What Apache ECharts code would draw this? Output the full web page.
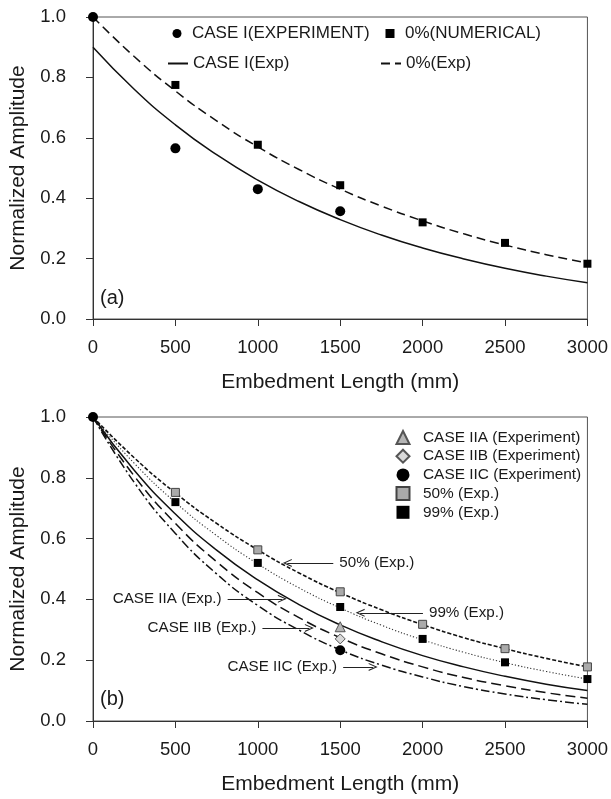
<!DOCTYPE html>
<html><head><meta charset="utf-8">
<script src="https://cdn.jsdelivr.net/npm/echarts@6/dist/echarts.min.js"></script>
<style>html,body{margin:0;padding:0;background:#fff}#c{width:611px;height:799px}</style>
</head><body><div id="c"></div>
<script>
// ---- data ----
const xTicks = [0, 500, 1000, 1500, 2000, 2500, 3000];
const curveX = [0, 250, 500, 750, 1000, 1250, 1500, 1750, 2000, 2250, 2500, 2750, 3000];
// chart (a)
const caseIExpX = [0, 500, 1000, 1500];
const caseIExpY = [1.0, 0.565, 0.43, 0.357];
const num0X = [500, 1000, 1500, 2000, 2500, 3000];
const num0Y = [0.775, 0.577, 0.443, 0.32, 0.252, 0.183];
const caseIFit = [0.900, 0.761, 0.643, 0.544, 0.460, 0.389, 0.329, 0.278, 0.235, 0.199, 0.168, 0.142, 0.120];
const zeroFit = [1.000, 0.869, 0.755, 0.656, 0.570, 0.495, 0.430, 0.374, 0.325, 0.282, 0.245, 0.213, 0.185];
// chart (b)
const iiaX = [1500], iiaY = [0.31];
const iibX = [1500], iibY = [0.27];
const iicX = [0, 1500], iicY = [1.0, 0.233];
const pctX = [500, 1000, 1500, 2000, 2500, 3000];
const p50Y = [0.752, 0.563, 0.425, 0.318, 0.238, 0.178];
const p99Y = [0.72, 0.52, 0.375, 0.27, 0.193, 0.138];
const iiaFit = [1.000, 0.825, 0.681, 0.562, 0.464, 0.383, 0.316, 0.261, 0.215, 0.178, 0.147, 0.121, 0.100];
const iibFit = [1.000, 0.806, 0.650, 0.524, 0.422, 0.340, 0.274, 0.221, 0.178, 0.143, 0.116, 0.093, 0.075];
const iicFit = [1.000, 0.785, 0.617, 0.484, 0.380, 0.299, 0.234, 0.184, 0.145, 0.113, 0.089, 0.070, 0.055];
const p50Fit = [1.000, 0.866, 0.750, 0.650, 0.563, 0.487, 0.422, 0.366, 0.317, 0.274, 0.238, 0.206, 0.178];
const p99Fit = [1.000, 0.848, 0.719, 0.610, 0.517, 0.438, 0.372, 0.315, 0.267, 0.226, 0.192, 0.163, 0.138];
// annotations: [label, startX, tipX, y]
const notes = [
  ['50% (Exp.)', 1458, 1179, 0.52],
  ['CASE IIA (Exp.)', 817, 1149, 0.402],
  ['CASE IIB (Exp.)', 1028, 1313, 0.306],
  ['CASE IIC (Exp.)', 1518, 1700, 0.178],
  ['99% (Exp.)', 2002, 1621, 0.356]
];

const zip = (xs, ys) => xs.map((x, i) => [x, ys[i]]);
const FONT = '"Liberation Sans", Arial, sans-serif';
const ink = '#1a1a1a';

function xAxis(gi) {
  return {
    gridIndex: gi, type: 'value', min: 0, max: 3000, interval: 500,
    name: 'Embedment Length (mm)', nameLocation: 'middle', nameGap: 53,
    nameTextStyle: { fontSize: 21, color: ink, fontFamily: FONT },
    axisLine: { lineStyle: { color: '#333', width: 1 } },
    axisTick: { show: true, length: 7, lineStyle: { color: '#333' } },
    axisLabel: { fontSize: 18.5, color: ink, margin: 19, fontFamily: FONT, formatter: v => String(v) },
    splitLine: { show: false }
  };
}
function yAxis(gi) {
  return {
    gridIndex: gi, type: 'value', min: 0, max: 1, interval: 0.2,
    name: 'Normalized Amplitude', nameLocation: 'middle', nameGap: 64,
    nameTextStyle: { fontSize: 21, color: ink, fontFamily: FONT },
    axisLine: { show: true, lineStyle: { color: '#333', width: 1 } },
    axisTick: { show: true, length: 7, lineStyle: { color: '#333' } },
    axisLabel: { fontSize: 18.5, color: ink, margin: 27, fontFamily: FONT, formatter: v => v.toFixed(1) },
    splitLine: { show: false }
  };
}
function lineSeries(name, gi, ys, style) {
  return {
    name, type: 'line', xAxisIndex: gi, yAxisIndex: gi, data: zip(curveX, ys),
    smooth: true, symbol: 'none', silent: true, z: 2, color: '#111',
    lineStyle: Object.assign({ color: '#111', width: 1.5 }, style)
  };
}
function scatterSeries(name, gi, xs, ys, symbol, size, item) {
  return {
    name, type: 'scatter', xAxisIndex: gi, yAxisIndex: gi, data: zip(xs, ys),
    symbol, symbolSize: size, silent: true, z: 5,
    itemStyle: Object.assign({ color: '#000', opacity: 1 }, item)
  };
}
const chevron = 'path://M5,0 L10,10 L8.6,10 L5,2.8 L1.4,10 L0,10 Z';

const topText = { fontSize: 17, color: ink, fontFamily: FONT };
const markerLegendTop = {
  orient: 'horizontal', itemHeight: 9, itemWidth: 9, itemGap: 0, padding: 0, selectedMode: false,
  formatter: '{p|{name}}',
  textStyle: Object.assign({ rich: { p: Object.assign({ padding: [0, 0, 0, 5.5] }, topText) } }, topText)
};
const lineLegendTop = {
  orient: 'horizontal', itemHeight: 9, itemWidth: 20, itemGap: 0, padding: 0, selectedMode: false,
  itemStyle: { opacity: 0 },
  textStyle: topText
};
const botText = { fontSize: 15.4, color: ink, fontFamily: FONT };

const option = {
  animation: false,
  backgroundColor: '#fff',
  title: [
    { text: '(a)', left: 95, top: 283, textStyle: { fontSize: 20, fontWeight: 'normal', color: ink, fontFamily: FONT } },
    { text: '(b)', left: 95, top: 684, textStyle: { fontSize: 20, fontWeight: 'normal', color: ink, fontFamily: FONT } }
  ],
  grid: [
    { left: 92, top: 17, width: 496, height: 302, show: true, borderColor: '#555', borderWidth: 1, backgroundColor: 'transparent' },
    { left: 92, top: 417, width: 497, height: 304, show: true, borderColor: '#555', borderWidth: 1, backgroundColor: 'transparent' }
  ],
  xAxis: [xAxis(0), xAxis(1)],
  yAxis: [yAxis(0), yAxis(1)],
  legend: [
    Object.assign({}, markerLegendTop, { left: 172.5, top: 25, data: ['CASE I(EXPERIMENT)'] }),
    Object.assign({}, markerLegendTop, { left: 385.5, top: 25, data: ['0%(NUMERICAL)'] }),
    Object.assign({}, lineLegendTop, { left: 167, top: 55, data: ['CASE I(Exp)'] }),
    Object.assign({}, lineLegendTop, { left: 380, top: 55, data: ['0%(Exp)'] }),
    {
      orient: 'vertical', left: 395.5, top: 430, itemWidth: 13, itemHeight: 13, itemGap: 3.7, padding: 0,
      selectedMode: false,
      formatter: '{p|{name}}',
      textStyle: Object.assign({ rich: { p: Object.assign({ padding: [0, 0, 0, 8.5] }, botText) } }, botText),
      data: ['CASE IIA (Experiment)', 'CASE IIB (Experiment)', 'CASE IIC (Experiment)', '50% (Exp.)', '99% (Exp.)']
    }
  ],
  series: [
    // chart (a)
    lineSeries('CASE I(Exp)', 0, caseIFit, {}),
    lineSeries('0%(Exp)', 0, zeroFit, { type: [9, 5] }),
    scatterSeries('CASE I(EXPERIMENT)', 0, caseIExpX, caseIExpY, 'circle', 10, {}),
    scatterSeries('0%(NUMERICAL)', 0, num0X, num0Y, 'rect', 8, {}),
    // chart (b)
    lineSeries('50% curve', 1, p50Fit, { type: [4, 2], width: 1.6 }),
    lineSeries('99% curve', 1, p99Fit, { type: [1.2, 2], width: 1.1, color: '#333' }),
    Object.assign(lineSeries('CASE IIA curve', 1, iiaFit, {}), {
      markLine: {
        silent: true, animation: false,
        symbol: ['none', chevron], symbolSize: [8, 9],
        lineStyle: { color: '#222', width: 1, type: 'solid' },
        label: { show: true, position: 'start', distance: 6, formatter: '{b}', fontSize: 15.2, color: ink, fontFamily: FONT },
        emphasis: { disabled: true },
        data: notes.map(n => [{ name: n[0], coord: [n[1], n[3]] }, { coord: [n[2], n[3]] }])
      }
    }),
    lineSeries('CASE IIB curve', 1, iibFit, { type: [10, 5] }),
    lineSeries('CASE IIC curve', 1, iicFit, { type: [9, 3, 2, 3] }),
    scatterSeries('50% (Exp.)', 1, pctX, p50Y, 'rect', 8, { color: '#aaaaaa', borderColor: '#444', borderWidth: 1 }),
    scatterSeries('99% (Exp.)', 1, pctX, p99Y, 'rect', 8, {}),
    scatterSeries('CASE IIA (Experiment)', 1, iiaX, iiaY, 'triangle', 10, { color: '#b5b5b5', borderColor: '#555', borderWidth: 1 }),
    scatterSeries('CASE IIB (Experiment)', 1, iibX, iibY, 'diamond', 10, { color: '#d9d9d9', borderColor: '#555', borderWidth: 1 }),
    scatterSeries('CASE IIC (Experiment)', 1, iicX, iicY, 'circle', 10, {})
  ]
};
const chart = echarts.init(document.getElementById('c'), null, { renderer: 'canvas' });
chart.setOption(option);
</script>
</body></html>
